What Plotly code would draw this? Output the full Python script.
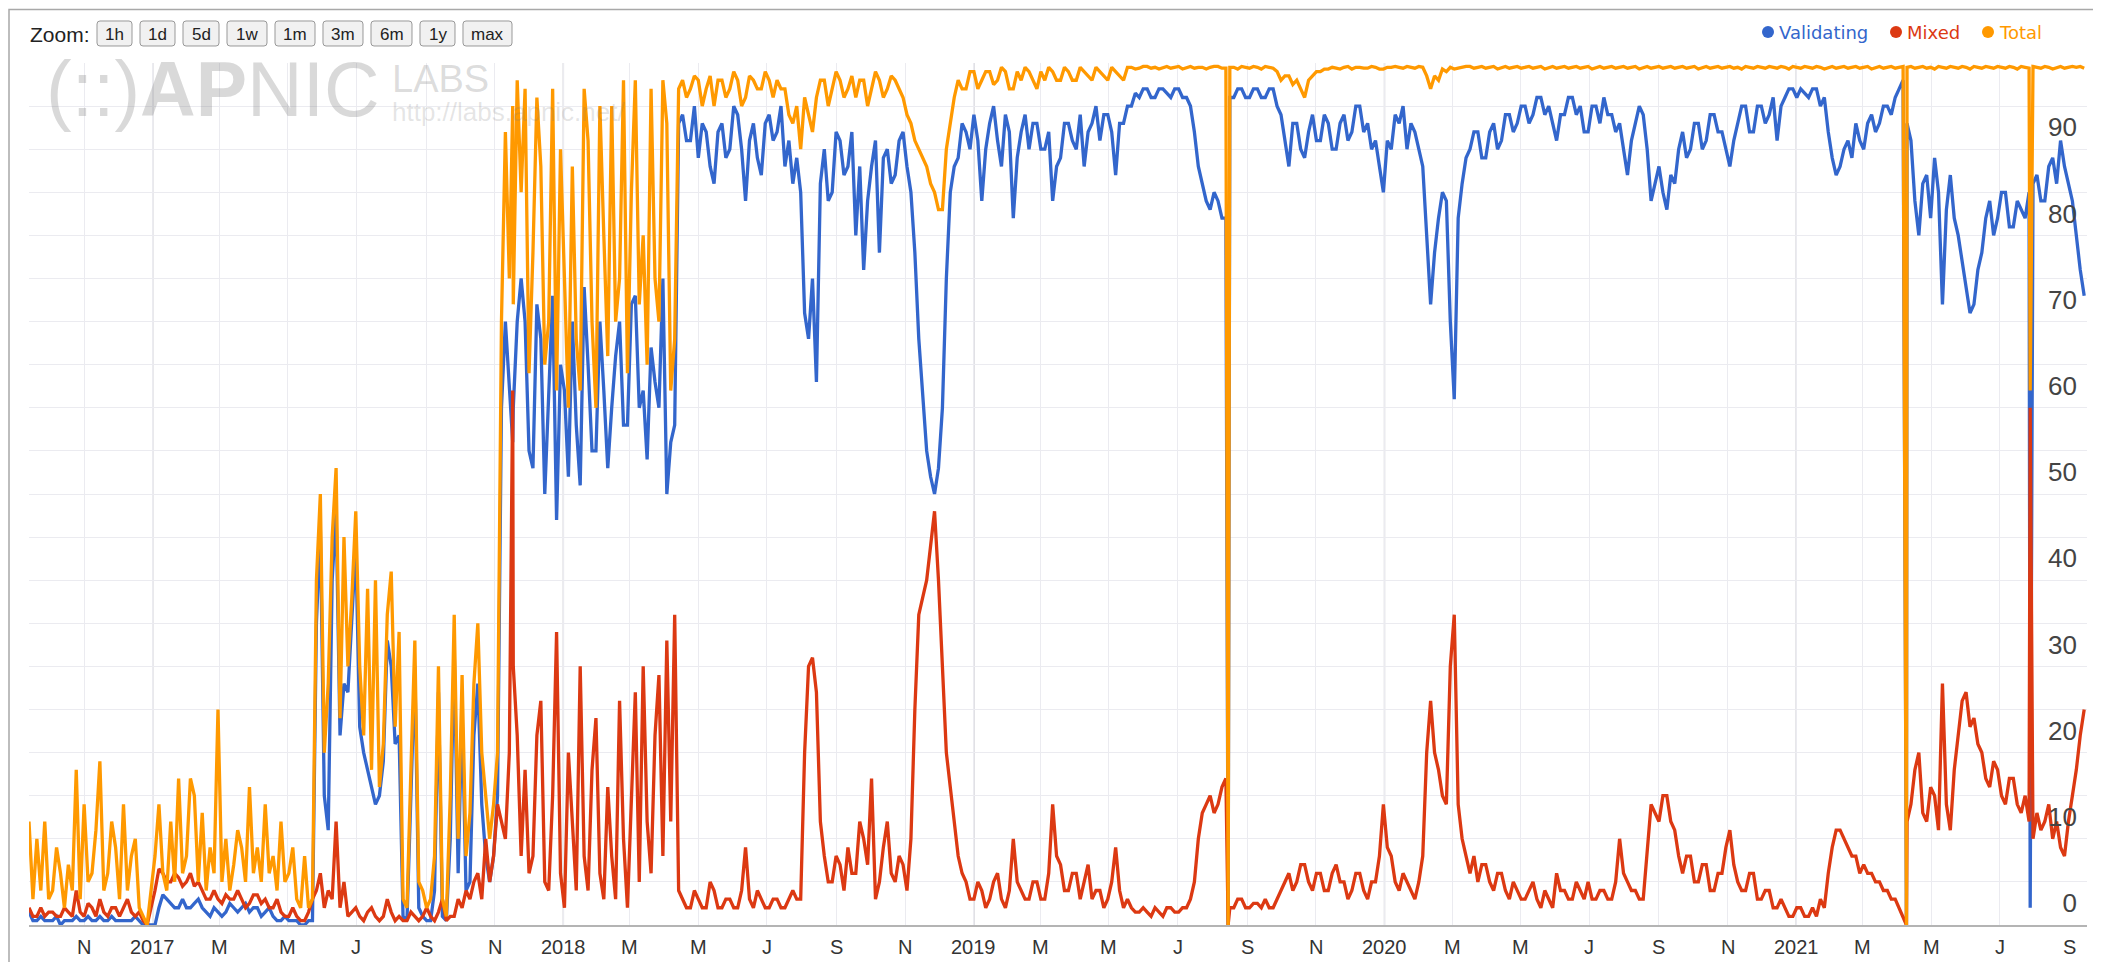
import pandas as pd
import plotly.graph_objects as go

# readings, one every half week starting 2016-09-13
start = "2016-09-13"
step = "84h"

total = [
    12, 3, 10, 4, 12, 3, 4, 9, 6, 2, 7, 4, 18, 3, 14, 5, 6, 11, 19, 4,
    6, 12, 9, 3, 14, 4, 8, 10, 2, 1, 0, 4, 8, 14, 6, 4, 12, 5, 17, 6,
    8, 17, 15, 5, 13, 4, 9, 6, 25, 5, 10, 4, 7, 11, 9, 5, 16, 6, 9, 5,
    14, 6, 8, 4, 12, 5, 6, 9, 3, 2, 8, 2, 3, 40, 50, 20, 28, 45, 53, 24,
    45, 30, 38, 48, 30, 22, 39, 18, 40, 16, 21, 36, 41, 23, 34, 3, 2, 18, 33, 5,
    4, 2, 3, 8, 30, 3, 1, 15, 36, 10, 29, 8, 13, 28, 35, 20, 15, 10, 14, 20,
    70, 92, 75, 72, 98, 85, 97, 64, 78, 96, 88, 65, 70, 97, 62, 90, 75, 60, 88, 68,
    62, 97, 91, 70, 60, 95, 80, 66, 95, 70, 75, 98, 64, 85, 98, 72, 80, 65, 97, 75,
    70, 98, 93, 62, 68, 97, 98, 96, 97, 98.5, 98, 95, 97, 98.5, 95, 98, 98, 96, 97, 99,
    98, 95, 96, 98.5, 98, 97, 97, 99, 98, 96, 98, 97, 97, 94, 93, 95, 90, 96, 94, 92,
    96, 98, 98, 95, 97, 99, 98, 96, 97, 98.5, 96, 98, 98, 95, 97, 99, 98, 96, 97, 98.5,
    98, 97, 96, 94, 93, 91, 90, 89, 88, 86, 85, 83, 83, 90, 93, 96, 98, 97, 97, 99,
    99, 97, 98, 99, 99, 97.5, 98, 99.5, 99, 97, 97, 99, 98, 99.5, 99, 98, 97, 99, 98, 99.5,
    99, 98, 98, 99.5, 99, 98, 98, 99.5, 99, 98.5, 98, 99.5, 99, 98.5, 98, 99.5, 99, 98.5, 98, 99.5,
    99.5, 99.3, 99.4, 99.6, 99.6, 99.4, 99.5, 99.3, 99.5, 99.6, 99.4, 99.5, 99.6, 99.3, 99.5, 99.6, 99.4, 99.5, 99.5, 99.3,
    99.5, 99.6, 99.6, 99.4, 99.4, 99.5, 99.5, 99.3, 99.6, 99.5, 99.4, 99.6, 99.5, 99.3, 99.6, 99.5, 99.4, 99, 98, 98.5,
    98.5, 97.5, 98, 97, 96, 98, 98.5, 99, 99, 99.3, 99.3, 99.5, 99.4, 99.3, 99.5, 99.6, 99.3, 99.5, 99.5, 99.4,
    99.4, 99.6, 99.5, 99.3, 99.3, 99.5, 99.5, 99.6, 99.5, 99.4, 99.6, 99.5, 99.4, 99.6, 99.5, 98.5, 97, 98.5, 98, 99.3,
    99, 99.5, 99.3, 99.4, 99.5, 99.6, 99.6, 99.4, 99.5, 99.6, 99.4, 99.5, 99.6, 99.3, 99.5, 99.6, 99.4, 99.5, 99.6, 99.4,
    99.5, 99.6, 99.4, 99.5, 99.6, 99.3, 99.5, 99.6, 99.4, 99.5, 99.6, 99.4, 99.5, 99.6, 99.4, 99.5, 99.6, 99.3, 99.5, 99.6,
    99.4, 99.5, 99.6, 99.4, 99.5, 99.6, 99.4, 99.5, 99.6, 99.3, 99.5, 99.6, 99.4, 99.5, 99.6, 99.4, 99.5, 99.6, 99.4, 99.5,
    99.6, 99.4, 99.5, 99.6, 99.3, 99.5, 99.6, 99.4, 99.5, 99.6, 99.4, 99.5, 99.6, 99.4, 99.5, 99.3, 99.6, 99.5, 99.4, 99.6,
    99.5, 99.4, 99.6, 99.5, 99.4, 99.6, 99.5, 99.3, 99.6, 99.5, 99.4, 99.6, 99.5, 99.4, 99.6, 99.5, 99.3, 99.5, 99.6, 99.4,
    99.5, 99.6, 99.4, 99.5, 99.6, 99.4, 99.5, 99.6, 99.3, 99.5, 99.6, 99.4, 99.5, 99.6, 99.4, 99.5, 99.6, 99.5, 99.6, 99.4,
    99.5, 99.6, 99.4, 99.5, 99.3, 99.6, 99.5, 99.4, 99.6, 99.5, 99.4, 99.6, 99.5, 99.3, 99.6, 99.5, 99.4, 99.6, 99.5, 99.4,
    99.6, 99.5, 99.4, 99.6, 99.5, 99.3, 99.6, 99.5, 99.4, 99.6, 99.5, 99.4, 99.6, 99.5, 99.3, 99.5, 99.6, 99.4, 99.5, 99.6,
    99.5, 99.6, 99.4,
]

validating = [
    1.5, 0.5, 0.5, 1, 0.5, 0.5, 0.5, 1, 0, 0.5, 0.5, 0.5, 1, 0.5, 0.5, 1, 0.5, 0.5, 1, 0.5,
    0.5, 1, 0.5, 0.5, 0.5, 0.5, 0.5, 1, 0.5, 0, 0, 0, 0, 2, 3.5, 3, 2.5, 2, 2, 3,
    2, 2, 2.5, 3, 2, 1.5, 1, 2, 1.5, 1, 1.5, 2.5, 2, 1.5, 2, 2.5, 1.5, 2, 2, 1,
    1.5, 2, 1, 0.5, 0.5, 1, 0.5, 0.5, 0.5, 0, 0, 0.5, 0.5, 35, 46, 15, 11, 40, 48, 22,
    28, 27, 35, 44, 23, 20, 18, 16, 14, 15, 19, 33, 30, 21, 22, 1, 0.5, 15, 30, 2,
    1, 0.5, 0.5, 4, 27, 1, 0.5, 10, 32, 6, 25, 4, 5, 22, 28, 14, 8, 5, 8, 15,
    60, 70, 62, 60, 70, 75, 70, 55, 53, 72, 68, 50, 62, 73, 47, 65, 62, 52, 70, 58,
    51, 74, 65, 55, 55, 70, 62, 53, 60, 66, 70, 58, 58, 72, 73, 60, 62, 54, 67, 63,
    60, 75, 50, 56, 58, 93, 94, 91, 91, 95, 89, 93, 92, 88, 86, 92, 93, 89, 90, 95,
    94, 90, 84, 91, 93, 89, 87, 93, 94, 91, 92, 95, 88, 91, 86, 89, 85, 71, 68, 75,
    63, 86, 90, 84, 85, 92, 91, 87, 88, 92, 80, 88, 76, 84, 88, 91, 78, 89, 90, 86,
    87, 91, 92, 88, 85, 78, 68, 62, 55, 52, 50, 53, 60, 75, 85, 88, 89, 93, 92, 90,
    94, 91, 84, 90, 93, 95, 91, 88, 94, 92, 82, 89, 92, 94, 90, 93, 93, 90, 90, 92,
    84, 88, 89, 93, 93, 91, 90, 94, 88, 92, 93, 95, 91, 94, 94, 92, 87, 93, 93, 95,
    95, 96.5, 96, 97, 97, 96, 96, 97, 97, 96.5, 96, 97, 97, 96, 96, 95, 92, 88, 86, 84,
    83, 85, 84, 82, 82, 96, 96, 97, 97, 96, 96, 97, 97, 96, 96, 97, 97, 95, 94, 91,
    88, 93, 93, 90, 89, 92, 94, 91, 91, 94, 93, 90, 90, 93, 94, 91, 92, 95, 95, 92,
    93, 90, 91, 88, 85, 91, 90, 94, 93, 95, 90, 93, 92, 90, 88, 80, 72, 78, 82, 85,
    84, 70, 61, 82, 86, 89, 90, 92, 92, 89, 89, 92, 93, 90, 91, 94, 94, 92, 93, 95,
    95, 93, 94, 96, 96, 94, 95, 93, 91, 94, 94, 96, 96, 94, 95, 92, 92, 95, 95, 93,
    96, 94, 94, 92, 93, 90, 87, 91, 93, 95, 94, 90, 84, 86, 88, 85, 83, 87, 86, 90,
    92, 89, 90, 93, 93, 90, 91, 94, 94, 92, 92, 90, 88, 91, 93, 95, 95, 92, 92, 95,
    95, 93, 94, 96, 91, 95, 96, 97, 97, 96, 97, 96.5, 96, 97, 97, 95, 96, 92, 89, 87,
    88, 90, 91, 89, 93, 91, 90, 93, 94, 92, 93, 95, 95, 94, 96, 97, 98, 93, 91, 84,
    80, 86, 87, 82, 89, 85, 72, 83, 87, 82, 80, 77, 74, 71, 72, 76, 78, 82, 84, 80,
    82, 85, 85, 81, 81, 84, 83, 82, 85, 86, 87, 84, 84, 88, 89, 86, 91, 88, 86, 84,
    80, 76, 73,
]

mixed = [
    2, 1, 1, 2, 1, 1.5, 1.5, 1, 1, 2, 1.5, 1, 4, 1.5, 1, 2.5, 2, 1, 3, 1.5,
    1, 2, 2, 1, 2, 3, 1.5, 1, 1.5, 0.5, 0, 2, 4, 6.5, 6, 5, 5, 6, 5.5, 4.5,
    5, 6, 4.5, 5, 4, 3, 3, 4, 3, 2.5, 3.5, 3, 3, 4, 3, 2, 2.5, 3.5, 3.5, 2.5,
    3, 2, 2, 3, 1.5, 1, 1, 2, 1, 0.5, 0.5, 1.5, 3, 4, 6, 2, 4, 3, 12, 2,
    5, 1, 1.5, 2, 1, 0.5, 1.5, 2, 1, 0.5, 1, 3, 1.5, 0.5, 1, 0.5, 0.5, 1.5, 1, 0.5,
    1, 2, 1, 0.5, 1.5, 3, 0.5, 1, 1, 3, 2, 4, 3, 5, 6, 3, 10, 5, 8, 14,
    12, 10, 20, 30, 22, 8, 18, 6, 8, 22, 26, 5, 4, 15, 34, 6, 2, 20, 12, 4,
    30, 8, 4, 18, 24, 6, 3, 16, 8, 3, 26, 10, 2, 14, 27, 5, 30, 12, 6, 22,
    29, 8, 33, 12, 36, 4, 3, 2, 2, 4, 3, 2, 2, 5, 4, 2, 2, 3, 3, 2,
    2, 4, 9, 3, 2, 4, 3, 2, 2, 3, 3, 2, 2, 3, 4, 3, 3, 20, 30, 31,
    27, 12, 8, 5, 5, 8, 7, 4, 9, 6, 6, 12, 10, 7, 17, 3, 5, 9, 12, 6,
    5, 8, 7, 4, 10, 25, 36, 38, 40, 44, 48, 40, 30, 20, 16, 12, 8, 6, 5, 3,
    3, 5, 4, 2, 3, 5, 6, 3, 2, 4, 10, 5, 4, 3, 3, 5, 5, 3, 3, 6,
    14, 8, 7, 4, 4, 6, 6, 3, 5, 7, 3, 4, 4, 2, 3, 5, 9, 4, 2, 3,
    2, 1.5, 1.5, 2, 1.5, 1, 2, 1.5, 1, 2, 2, 1.5, 1.5, 2, 2, 3, 5, 10, 13, 14,
    15, 13, 14, 16, 17, 2, 2, 3, 3, 2, 2, 2.5, 2.5, 2, 3, 2, 2, 3, 4, 5,
    6, 4, 5, 7, 7, 5, 4, 6, 6, 4, 4, 6, 7, 5, 5, 3, 4, 6, 6, 4,
    3, 5, 5, 8, 14, 9, 8, 5, 4, 6, 5, 4, 3, 5, 8, 20, 26, 20, 18, 15,
    14, 30, 36, 14, 10, 8, 6, 8, 5, 7, 7, 5, 4, 6, 6, 4, 3, 5, 4, 3,
    3, 4, 5, 3, 2, 4, 3, 2, 6, 4, 4, 3, 3, 5, 4, 3, 5, 3, 3, 4,
    4, 3, 3, 5, 10, 6, 5, 4, 4, 3, 3, 8, 14, 13, 12, 15, 15, 12, 11, 8,
    6, 8, 8, 5, 5, 7, 7, 4, 4, 6, 6, 9, 11, 7, 5, 4, 4, 6, 6, 3,
    3, 4, 4, 2, 2, 3, 2, 1, 1, 2, 2, 1, 1, 2, 1, 3, 2, 6, 9, 11,
    11, 10, 9, 8, 8, 6, 7, 6, 6, 5, 5, 4, 4, 3, 3, 2, 1, 12, 14, 18,
    20, 13, 12, 16, 15, 11, 28, 14, 11, 18, 22, 26, 27, 23, 24, 21, 20, 17, 16, 19,
    18, 15, 14, 17, 17, 14, 13, 15, 12, 10, 13, 11, 12, 14, 10, 12, 9, 8, 12, 15,
    18, 22, 25,
]

# one-day spikes / drop-outs that fall between the regular samples
event_dates = ["2017-11-17", "2019-08-15", "2021-04-09", "2021-07-28"]
event_total = [95, 0, 0, 62]
event_validating = [56, 0, 0, 2]
event_mixed = [62, 0, 0, 60]

tick_text = [
    "N",
    "2017", "M", "M", "J", "S", "N",
    "2018", "M", "M", "J", "S", "N",
    "2019", "M", "M", "J", "S", "N",
    "2020", "M", "M", "J", "S", "N",
    "2021", "M", "M", "J", "S",
]
zoom_buttons = ["1h", "1d", "5d", "1w", "1m", "3m", "6m", "1y", "max"]

regular = pd.DataFrame({
    "date": pd.date_range(start, periods=len(total), freq=step),
    "total": total, "validating": validating, "mixed": mixed,
})
events = pd.DataFrame({
    "date": pd.to_datetime(event_dates),
    "total": event_total, "validating": event_validating, "mixed": event_mixed,
})
df = pd.concat([regular, events]).sort_values("date")

tick_dates = pd.date_range("2016-11-01", periods=len(tick_text), freq="2MS")
year_lines = [d for d, t in zip(tick_dates, tick_text) if t.isdigit()]

series = [
    ("Validating", "validating", "#3366cc"),
    ("Mixed", "mixed", "#dc3912"),
    ("Total", "total", "#ff9900"),
]

# the page body keeps its default 8px margin, so the figure sits 8px in
OFF = 8
SW, SH = 2101, 962
W, H = SW - OFF, SH - OFF
# plot box in screen pixels
L, R, T, B = 29, 2087, 63, 925


def px(x):
    return (x - L) / (R - L)


def py(y):
    return (B - y) / (B - T)


def rounded_box(x0, y0, x1, y1, r=3):
    # rounded rectangle as an SVG path in paper units (input in screen px)
    pts = [
        ("M", [(x0 + r, y0)]),
        ("L", [(x1 - r, y0)]), ("Q", [(x1, y0), (x1, y0 + r)]),
        ("L", [(x1, y1 - r)]), ("Q", [(x1, y1), (x1 - r, y1)]),
        ("L", [(x0 + r, y1)]), ("Q", [(x0, y1), (x0, y1 - r)]),
        ("L", [(x0, y0 + r)]), ("Q", [(x0, y0), (x0 + r, y0)]),
    ]
    path = ""
    for cmd, coords in pts:
        path += cmd + " ".join(f"{px(a):.6f},{py(b):.6f}" for a, b in coords) + " "
    return path + "Z"


fig = go.Figure()
for name, col, color in series:
    fig.add_trace(go.Scatter(
        x=df["date"], y=df[col], mode="lines", name=name,
        line=dict(color=color, width=3.3),
    ))

grid = "#ebebf0"
fig.update_xaxes(
    range=[start, "2021-09-16 12:00"], automargin=False,
    tickvals=tick_dates, showticklabels=False,
    showgrid=True, gridcolor=grid, gridwidth=1,
    showline=True, linecolor="#b4b4b4", linewidth=2, ticks="",
)
fig.update_yaxes(
    range=[0, 100], side="right", automargin=False,
    tickvals=list(range(0, 100, 10)),
    ticklabelposition="inside", ticklabelshift=-22, ticklabelstandoff=7,
    showgrid=True, gridcolor=grid, zeroline=False,
    minor=dict(dtick=5, showgrid=True, gridcolor=grid),
    tickfont=dict(size=26, color="#444"),
)

shapes = []
for d in year_lines:
    shapes.append(dict(type="line", xref="x", yref="paper", x0=d, x1=d, y0=0, y1=1,
                       line=dict(color="#d2d2d8", width=1.5), layer="below"))
# outer frame
shapes.append(dict(type="rect", xref="paper", yref="paper",
                   x0=px(9), x1=px(2094), y0=py(990), y1=py(9.5),
                   line=dict(color="#a8a8a8", width=1.5)))

annotations = []
# month / year labels under the axis
for d, t in zip(tick_dates, tick_text):
    annotations.append(dict(xref="x", yref="paper", x=d, y=py(947), xanchor="center", yanchor="middle",
                            text=t, showarrow=False, font=dict(size=20, color="#333")))

# watermark
annotations.append(dict(xref="paper", yref="paper", x=px(44), y=py(89), xanchor="left", yanchor="middle",
                        text="(::)<b>AP</b>NIC", showarrow=False,
                        font=dict(size=77, color="rgba(120,120,120,0.28)", family="Liberation Sans")))
annotations.append(dict(xref="paper", yref="paper", x=px(390), y=py(79), xanchor="left", yanchor="middle",
                        text="LABS", showarrow=False,
                        font=dict(size=38, color="rgba(120,120,120,0.26)", family="Liberation Sans")))
annotations.append(dict(xref="paper", yref="paper", x=px(390), y=py(112), xanchor="left", yanchor="middle",
                        text="http://labs.apnic.net/", showarrow=False,
                        font=dict(size=26, color="rgba(120,120,120,0.2)", family="Liberation Sans")))

# zoom bar
annotations.append(dict(xref="paper", yref="paper", x=px(28), y=py(34), xanchor="left", yanchor="middle",
                        text="Zoom:", showarrow=False,
                        font=dict(size=21, color="#222", family="Liberation Sans")))
bx = 97
widths = [35, 35, 36, 40, 40, 40, 41, 35, 49]
for label, w in zip(zoom_buttons, widths):
    shapes.append(dict(type="path", xref="paper", yref="paper",
                       path=rounded_box(bx, 21, bx + w, 46),
                       fillcolor="#f1f1f1", line=dict(color="#999", width=1)))
    annotations.append(dict(xref="paper", yref="paper", x=px(bx + w / 2), y=py(34),
                            xanchor="center", yanchor="middle", text=label, showarrow=False,
                            font=dict(size=17, color="#222", family="Liberation Sans")))
    bx += w + 8

# legend
legend_x = [1762, 1890, 1982]
for (name, col, color), lx in zip(series, legend_x):
    shapes.append(dict(type="circle", xref="paper", yref="paper",
                       x0=px(lx), x1=px(lx + 12), y0=py(38), y1=py(26),
                       fillcolor=color, line=dict(width=0)))
    annotations.append(dict(xref="paper", yref="paper", x=px(lx + 15), y=py(32),
                            xanchor="left", yanchor="middle", text=name, showarrow=False,
                            font=dict(size=18, color=color, family="DejaVu Sans")))

fig.update_layout(
    width=W, height=H,
    margin=dict(l=L - OFF, r=SW - R, t=T - OFF, b=SH - B),
    plot_bgcolor="white", paper_bgcolor="white",
    showlegend=False,
    font=dict(family="Liberation Sans, Arial, sans-serif"),
    shapes=shapes, annotations=annotations,
)

fig.write_html("out.html")
